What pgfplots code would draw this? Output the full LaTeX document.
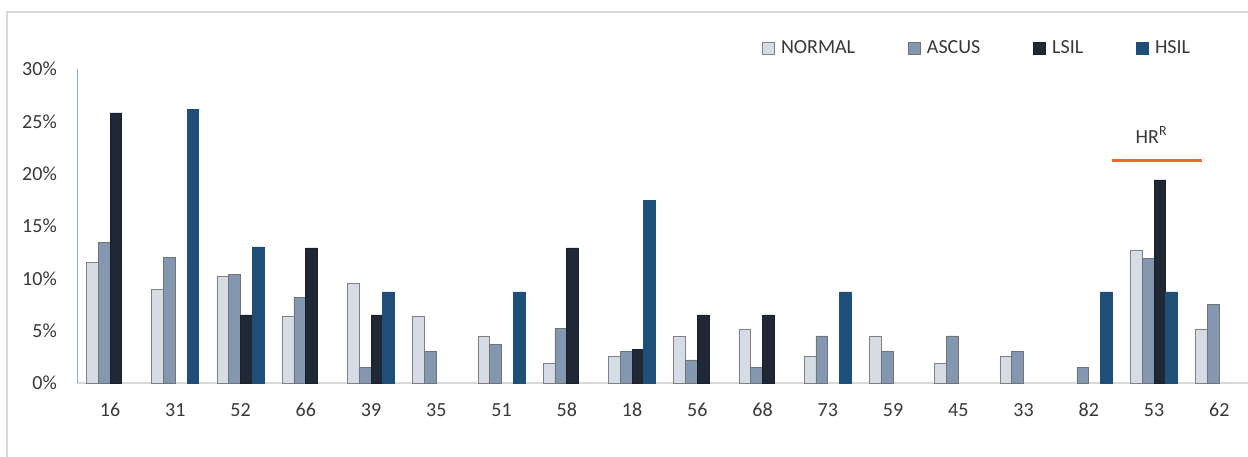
\documentclass[border=0pt]{standalone}
\usepackage{pgfplots}
\pgfplotsset{compat=1.18}
\usepackage{pgfplotstable}
\usepackage{fontspec}
\setmainfont{Carlito}
\definecolor{cNormal}{RGB}{214,220,229}
\definecolor{cAscus}{RGB}{132,151,176}
\definecolor{cLsil}{RGB}{31,40,52}
\definecolor{cHsil}{RGB}{31,78,121}
\definecolor{txt}{RGB}{56,56,56}
\definecolor{frameg}{RGB}{217,217,217}
\definecolor{orangeline}{RGB}{241,107,45}
\definecolor{yline}{RGB}{142,169,219}

\pgfplotstableread{
x y
0 11.5
1 8.9
2 10.2
3 6.4
4 9.5
5 6.4
6 4.5
7 1.9
8 2.5
9 4.5
10 5.1
11 2.5
12 4.5
13 1.9
14 2.5
16 12.7
17 5.1
}\normal
\pgfplotstableread{
x y
0 13.4
1 12.0
2 10.4
3 8.2
4 1.5
5 3.0
6 3.7
7 5.2
8 3.0
9 2.2
10 1.5
11 4.5
12 3.0
13 4.5
14 3.0
15 1.5
16 11.9
17 7.5
}\ascus
\pgfplotstableread{
x y
0 25.8
2 6.5
3 12.9
4 6.5
7 12.9
8 3.2
9 6.5
10 6.5
16 19.4
}\lsil
\pgfplotstableread{
x y
1 26.1
2 13.0
4 8.7
6 8.7
8 17.4
11 8.7
15 8.7
16 8.7
}\hsil

\begin{document}
\fontsize{20}{24}\selectfont
\begin{tikzpicture}
\useasboundingbox (0,0) rectangle (1248pt,456pt);
\draw[frameg, line width=2pt] (7pt,-10pt) -- (7pt,444pt) -- (1260pt,444pt);
\begin{axis}[
  at={(77pt,73pt)}, anchor=south west,
  scale only axis, width=1171pt, height=314pt,
  xmin=-0.506, xmax=17.44, ymin=0, ymax=30,
  ybar=0pt, bar width=11.8pt,
  axis x line=bottom, axis y line=left,
  x axis line style={draw=frameg, line width=1.5pt, -},
  y axis line style={draw=yline, line width=1pt, -},
  major tick length=0pt,
  xtick={0,...,17},
  xticklabels={16,31,52,66,39,35,51,58,18,56,68,73,59,45,33,82,53,62},
  ytick={0,5,10,15,20,25,30},
  yticklabels={0\%,5\%,10\%,15\%,20\%,25\%,30\%},
  xticklabel style={anchor=center, yshift=-27pt, inner sep=0pt, text=txt, font=\fontsize{20}{24}\selectfont},
  yticklabel style={anchor=east, xshift=-20pt, inner sep=0pt, text=txt, font=\fontsize{20}{24}\selectfont},
  legend columns=4,
  legend image code/.code={\draw[#1, line width=0.8pt] (0pt,-6pt) rectangle (12pt,6pt);},
  legend style={at={(0.585,1.066)}, anchor=west, draw=none, fill=none,
    font=\fontsize{20}{24}\selectfont, text=txt, inner sep=0pt,
    nodes={inner sep=0pt},
    /tikz/every odd column/.append style={column sep=6pt},
    /tikz/every even column/.append style={column sep=53pt}},
]
\addplot[fill=cNormal, draw=gray, line width=0.8pt] table[x=x,y=y]{\normal};
\addplot[fill=cAscus, draw=gray!90!black, line width=0.8pt] table[x=x,y=y]{\ascus};
\addplot[fill=cLsil, draw=cLsil!80!black, line width=0.8pt] table[x=x,y=y]{\lsil};
\addplot[fill=cHsil, draw=cHsil, line width=0.8pt] table[x=x,y=y]{\hsil};
\legend{NORMAL,ASCUS,LSIL,HSIL}
\draw[orangeline, line width=3pt] (axis cs:15.36,21.3) -- (axis cs:16.74,21.3);
\node[text=txt, inner sep=0pt, font=\fontsize{20}{24}\selectfont] at (axis cs:15.96,23.7) {HR\textsuperscript{R}};
\end{axis}
\end{tikzpicture}
\end{document}
